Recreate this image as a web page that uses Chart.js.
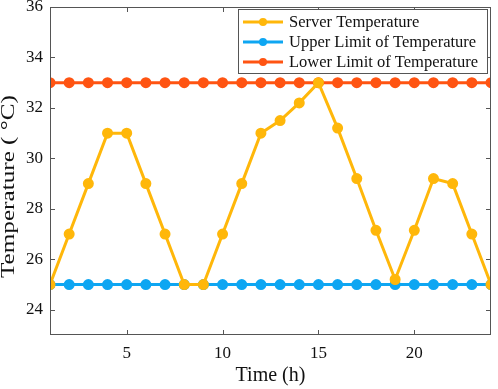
<!DOCTYPE html>
<html>
<head>
<meta charset="utf-8">
<script src="https://cdn.jsdelivr.net/npm/chart.js@4.4.0/dist/chart.umd.min.js"></script>
<style>
  html, body { margin: 0; padding: 0; background: #fff; }
  #wrap { width: 498px; height: 389px; position: relative; }
</style>
</head>
<body>
<div id="wrap"><canvas id="tempChart"></canvas></div>
<script>
// Data
const hours = [1,2,3,4,5,6,7,8,9,10,11,12,13,14,15,16,17,18,19,20,21,22,23,24];
const serverTemp = [25,27,29,31,31,29,27,25,25,27,29,31,31.5,32.2,33,31.2,29.2,27.15,25.2,27.15,29.2,29,27,25];
const upperLimit = [25,25,25,25,25,25,25,25,25,25,25,25,25,25,25,25,25,25,25,25,25,25,25,25];
const lowerLimit = [33,33,33,33,33,33,33,33,33,33,33,33,33,33,33,33,33,33,33,33,33,33,33,33];
const xTicks = [5,10,15,20];
const yTicks = [24,26,28,30,32,34,36];
const seriesNames = ['Server Temperature', 'Upper Limit of Temperature', 'Lower Limit of Temperature'];
const seriesColors = ['#FFB70A', '#0EA6F2', '#FF5412'];
const yTitle = 'Temperature ( °C)';

const FONT = '"Liberation Serif", "Times New Roman", serif';

function toPoints(vals) {
    return hours.map((h, i) => ({ x: h, y: vals[i] }));
}

// Ticks pointing inward on all four sides + frame
const frameTicks = {
    id: 'frameTicks',
    afterDraw(chart) {
        const ctx = chart.ctx;
        const a = chart.chartArea;
        const xs = chart.scales.x, ys = chart.scales.y;
        ctx.save();
        ctx.strokeStyle = '#555';
        ctx.lineWidth = 1;
        ctx.strokeRect(a.left + 0.5, a.top + 0.5, a.right - a.left - 1, a.bottom - a.top - 1);
        ctx.beginPath();
        xTicks.forEach(v => {
            const px = Math.round(xs.getPixelForValue(v)) + 0.5;
            ctx.moveTo(px, a.bottom); ctx.lineTo(px, a.bottom - 5);
            ctx.moveTo(px, a.top); ctx.lineTo(px, a.top + 5);
        });
        yTicks.forEach(v => {
            const py = Math.round(ys.getPixelForValue(v)) + 0.5;
            ctx.moveTo(a.left, py); ctx.lineTo(a.left + 5, py);
            ctx.moveTo(a.right, py); ctx.lineTo(a.right - 5, py);
        });
        ctx.stroke();

        // y title, stretched along the baseline like the original
        ctx.translate(9, 186.5);
        ctx.rotate(-Math.PI / 2);
        ctx.font = '18px ' + FONT;
        const tw = ctx.measureText(yTitle).width;
        ctx.scale(183 / tw, 1);
        ctx.fillStyle = '#111';
        ctx.textAlign = 'center';
        ctx.textBaseline = 'middle';
        ctx.fillText(yTitle, 0, 0);
        ctx.restore();
    }
};

// Legend box inside the plot, top right
const boxLegend = {
    id: 'boxLegend',
    afterDraw(chart) {
        const ctx = chart.ctx;
        const x0 = 238, y0 = 9, w = 249, h = 64;
        ctx.save();
        ctx.fillStyle = '#fff';
        ctx.fillRect(x0, y0, w, h);
        ctx.strokeStyle = '#555';
        ctx.lineWidth = 1;
        ctx.strokeRect(x0 + 0.5, y0 + 0.5, w, h);
        const rows = [22, 42, 62];
        ctx.font = '16.5px ' + FONT;
        ctx.textBaseline = 'middle';
        seriesNames.forEach((name, i) => {
            const y = rows[i];
            ctx.strokeStyle = seriesColors[i];
            ctx.lineWidth = 3;
            ctx.beginPath();
            ctx.moveTo(243, y); ctx.lineTo(283, y);
            ctx.stroke();
            ctx.fillStyle = seriesColors[i];
            ctx.beginPath();
            ctx.arc(263, y, 4, 0, Math.PI * 2);
            ctx.fill();
            ctx.fillStyle = '#111';
            ctx.fillText(name, 289, y + 1);
        });
        ctx.restore();
    }
};

function makeSet(label, vals, color) {
    return {
        label: label,
        data: toPoints(vals),
        borderColor: color,
        backgroundColor: color,
        pointBackgroundColor: color,
        pointBorderColor: color,
        pointRadius: 4,
        borderWidth: 3,
        tension: 0,
        fill: false
    };
}

new Chart(document.getElementById('tempChart'), {
    type: 'line',
    data: {
        datasets: [
            makeSet(seriesNames[0], serverTemp, seriesColors[0]),
            makeSet(seriesNames[1], upperLimit, seriesColors[1]),
            makeSet(seriesNames[2], lowerLimit, seriesColors[2])
        ]
    },
    options: {
        responsive: true,
        maintainAspectRatio: false,
        animation: false,
        layout: { padding: { top: 6, right: 3, left: 0, bottom: 0 } },
        plugins: {
            legend: { display: false },
            tooltip: { enabled: false }
        },
        scales: {
            x: {
                type: 'linear',
                min: 1, max: 24,
                afterBuildTicks(scale) { scale.ticks = xTicks.map(v => ({ value: v })); },
                afterFit(scale) { scale.height = 54; scale.paddingLeft = 0; scale.paddingRight = 0; },
                grid: { display: false, drawTicks: false },
                border: { display: false },
                ticks: { padding: 8, color: '#111', font: { family: FONT, size: 17 } },
                title: { display: true, text: 'Time (h)', color: '#111', padding: { top: 0, bottom: 1 }, font: { family: FONT, size: 20 } }
            },
            y: {
                min: 23, max: 36,
                afterBuildTicks(scale) { scale.ticks = yTicks.map(v => ({ value: v })); },
                afterFit(scale) { scale.width = 50; scale.paddingTop = 0; scale.paddingBottom = 0; },
                grid: { display: false, drawTicks: false },
                border: { display: false },
                ticks: { padding: 7, color: '#111', font: { family: FONT, size: 17 } },
                title: { display: false }
            }
        }
    },
    plugins: [frameTicks, boxLegend]
});
</script>
</body>
</html>
